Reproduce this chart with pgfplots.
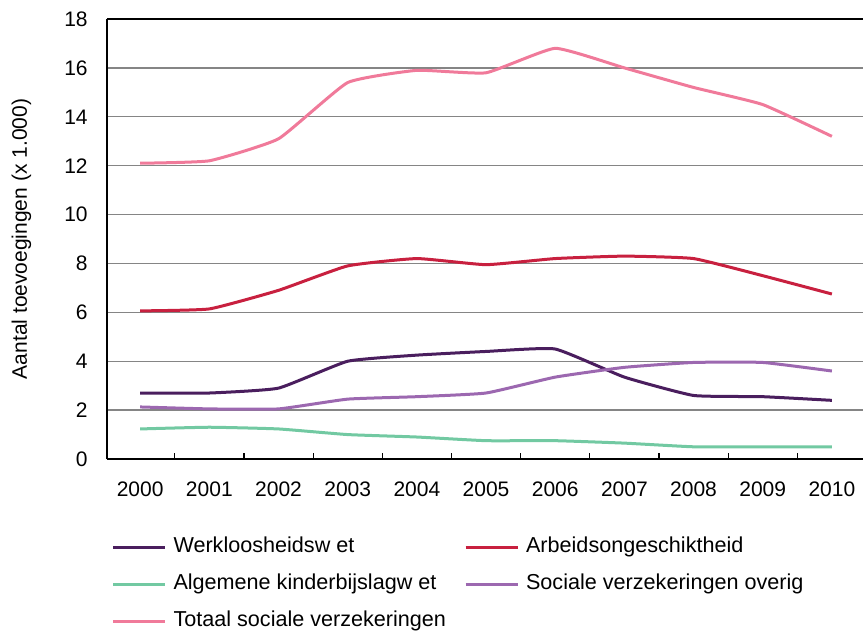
\documentclass[border=0pt]{standalone}
\usepackage{pgfplots}
\pgfplotsset{compat=1.18}
\usepackage{fontspec}
\setmainfont{Liberation Sans}
\definecolor{cWW}{HTML}{4A1E5E}
\definecolor{cAO}{HTML}{C8203F}
\definecolor{cAK}{HTML}{72C9A2}
\definecolor{cSV}{HTML}{9C68B0}
\definecolor{cTO}{HTML}{F07A9A}
\definecolor{cgrid}{HTML}{858585}
\newcommand{\fs}{\fontsize{10.5}{12.6}\selectfont}
\newcommand{\fl}{\fontsize{10.8}{13}\selectfont}
\begin{document}
\begin{tikzpicture}
\begin{axis}[
  scale only axis,
  width=378pt, height=220pt,
  xmin=-0.48, xmax=10.45,
  ymin=0, ymax=18,
  axis x line=box, axis y line=left,
  y axis line style={-},
  x axis line style={-},
  axis line style={line width=0.85pt, black},
  xtick={0,...,10},
  xticklabels={2000,2001,2002,2003,2004,2005,2006,2007,2008,2009,2010},
  major x tick style={draw=none},
  minor xtick={0.5,1.5,...,9.5},
  minor tick length=3pt,
  minor x tick style={black, line width=0.6pt},
  xtick pos=left,
  ytick={0,2,...,18},
  ytick style={draw=none},
  ymajorgrids,
  grid style={cgrid, line width=0.65pt},
  /pgf/number format/assume math mode=true,
  tick label style={font=\fs},
  xticklabel style={yshift=-8pt},
  yticklabel style={xshift=-4pt},
  ylabel={Aantal toevoegingen (x 1.000)},
  ylabel style={font=\fs, at={(axis description cs:-0.113,0.5)}, anchor=center},
  every axis plot/.append style={line width=1.5pt, smooth, tension=0.25, line join=round, no markers},
  legend columns=2,
  legend cell align=left,
  legend image code/.code={\draw[#1] (0pt,0pt) -- (26pt,0pt);},
  legend style={draw=none, font=\fl, at={(rel axis cs:0.006,-0.161)}, anchor=north west,
    inner sep=0pt, outer sep=0pt, row sep=1pt,
    nodes={text height=8pt, text depth=2.5pt, inner sep=3.5pt},
    /tikz/every odd column/.append style={column sep=0pt},
    /tikz/every even column/.append style={column sep=5.5pt}},
]
\addplot[cWW] coordinates {(0,2.7) (1,2.7) (2,2.9) (3,4.0) (4,4.25) (5,4.4) (6,4.5) (7,3.35) (8,2.6) (9,2.55) (10,2.4)};
\addlegendentry{Werkloosheidsw et}
\addplot[cAO] coordinates {(0,6.06) (1,6.14) (2,6.9) (3,7.9) (4,8.2) (5,7.95) (6,8.2) (7,8.3) (8,8.2) (9,7.5) (10,6.75)};
\addlegendentry{Arbeidsongeschiktheid}
\addplot[cAK] coordinates {(0,1.23) (1,1.3) (2,1.23) (3,1.0) (4,0.9) (5,0.75) (6,0.75) (7,0.65) (8,0.5) (9,0.5) (10,0.5)};
\addlegendentry{Algemene kinderbijslagw et}
\addplot[cSV] coordinates {(0,2.13) (1,2.05) (2,2.05) (3,2.45) (4,2.55) (5,2.7) (6,3.35) (7,3.75) (8,3.95) (9,3.95) (10,3.6)};
\addlegendentry{Sociale verzekeringen overig}
\addplot[cTO] coordinates {(0,12.1) (1,12.2) (2,13.1) (3,15.4) (4,15.9) (5,15.8) (6,16.8) (7,16.0) (8,15.2) (9,14.5) (10,13.2)};
\addlegendentry{Totaal sociale verzekeringen}
\coordinate (BL) at (rel axis cs:-0.1415,-0.391);
\coordinate (TR) at (rel axis cs:1,1.0432);
\end{axis}
\pgfresetboundingbox
\path (BL) rectangle (TR);
\end{tikzpicture}
\end{document}
